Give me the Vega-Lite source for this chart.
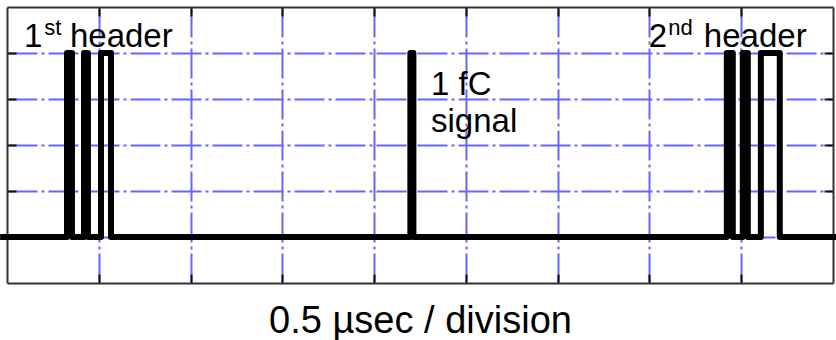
{
  "$schema": "https://vega.github.io/schema/vega-lite/v6.json",
  "width": 826,
  "height": 276,
  "autosize": "none",
  "padding": {"left": 7, "top": 7, "right": 3, "bottom": 57},
  "background": "white",
  "config": {
    "view": {"stroke": null},
    "font": "Liberation Sans",
    "axis": {
      "labels": false,
      "tickSize": -9,
      "tickColor": "#111",
      "tickWidth": 2,
      "domainColor": "#333",
      "domainWidth": 2,
      "gridColor": "#6666ff",
      "gridWidth": 2,
      "gridDash": [30, 4, 3, 4],
      "gridOpacity": 1
    }
  },
  "datasets": {
    "trace": [
      {"i": 0, "t": -0.075, "v": 1},
      {"i": 1, "t": 0.654, "v": 1},
      {"i": 2, "t": 0.654, "v": 5},
      {"i": 3, "t": 0.708, "v": 5},
      {"i": 4, "t": 0.708, "v": 1},
      {"i": 5, "t": 0.839, "v": 1},
      {"i": 6, "t": 0.839, "v": 5},
      {"i": 7, "t": 0.882, "v": 5},
      {"i": 8, "t": 0.882, "v": 1},
      {"i": 9, "t": 1.024, "v": 1},
      {"i": 10, "t": 1.024, "v": 5},
      {"i": 11, "t": 1.133, "v": 5},
      {"i": 12, "t": 1.133, "v": 1},
      {"i": 13, "t": 4.395, "v": 1},
      {"i": 14, "t": 4.395, "v": 5},
      {"i": 15, "t": 4.428, "v": 5},
      {"i": 16, "t": 4.428, "v": 1},
      {"i": 17, "t": 7.843, "v": 1},
      {"i": 18, "t": 7.843, "v": 5},
      {"i": 19, "t": 7.908, "v": 5},
      {"i": 20, "t": 7.908, "v": 1},
      {"i": 21, "t": 8.017, "v": 1},
      {"i": 22, "t": 8.017, "v": 5},
      {"i": 23, "t": 8.072, "v": 5},
      {"i": 24, "t": 8.072, "v": 1},
      {"i": 25, "t": 8.214, "v": 1},
      {"i": 26, "t": 8.214, "v": 5},
      {"i": 27, "t": 8.42, "v": 5},
      {"i": 28, "t": 8.42, "v": 1},
      {"i": 29, "t": 9.04, "v": 1}
    ],
    "labels": [
      {"t": 0.185, "v": 5.13, "label": "1"},
      {"t": 0.686, "v": 5.13, "label": "header"},
      {"t": 6.993, "v": 5.13, "label": "2"},
      {"t": 7.593, "v": 5.13, "label": "header"},
      {"t": 4.62, "v": 4.087, "label": "1 fC"},
      {"t": 4.62, "v": 3.283, "label": "signal"}
    ],
    "sups": [
      {"t": 0.405, "v": 5.39, "label": "st"},
      {"t": 7.205, "v": 5.39, "label": "nd"}
    ]
  },
  "resolve": {"axis": {"x": "independent", "y": "independent"}},
  "layer": [
    {
      "data": {"name": "trace"},
      "mark": {"type": "line", "color": "black", "strokeWidth": 6, "strokeJoin": "round", "clip": false},
      "encoding": {
        "x": {
          "field": "t", "type": "quantitative",
          "scale": {"domain": [0, 9], "nice": false, "zero": false},
          "axis": {
            "orient": "bottom", "values": [1, 2, 3, 4, 5, 6, 7, 8], "grid": true,
            "title": "0.5 µsec / division",
            "titleFont": "Liberation Sans", "titleFontSize": 38, "titleFontWeight": "normal",
            "titleColor": "black", "titleBaseline": "alphabetic", "titleY": 49, "titleAnchor": "middle"
          }
        },
        "y": {
          "field": "v", "type": "quantitative",
          "scale": {"domain": [0, 6], "nice": false, "zero": false},
          "axis": {"orient": "left", "values": [1, 2, 3, 4, 5], "grid": true, "title": null}
        },
        "order": {"field": "i", "type": "quantitative"}
      }
    },
    {
      "data": {"name": "labels"},
      "mark": {"type": "text", "font": "Liberation Sans", "fontSize": 33, "align": "left", "baseline": "alphabetic", "color": "black"},
      "encoding": {
        "x": {"field": "t", "type": "quantitative", "axis": {"orient": "top", "values": [1, 2, 3, 4, 5, 6, 7, 8], "grid": false, "title": null}},
        "y": {"field": "v", "type": "quantitative", "axis": {"orient": "right", "values": [1, 2, 3, 4, 5], "grid": false, "title": null}},
        "text": {"field": "label"}
      }
    },
    {
      "data": {"name": "sups"},
      "mark": {"type": "text", "font": "Liberation Sans", "fontSize": 22, "align": "left", "baseline": "alphabetic", "color": "black"},
      "encoding": {
        "x": {"field": "t", "type": "quantitative", "axis": null},
        "y": {"field": "v", "type": "quantitative", "axis": null},
        "text": {"field": "label"}
      }
    }
  ]
}
